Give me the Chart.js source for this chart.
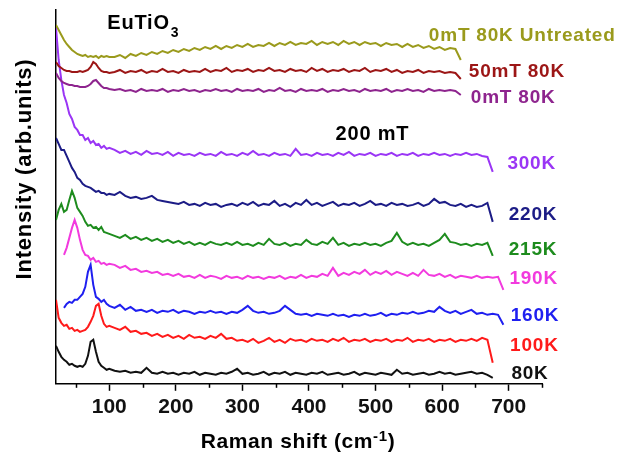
<!DOCTYPE html>
<html><head><meta charset="utf-8">
<script src="https://cdn.jsdelivr.net/npm/chart.js@4.4.1/dist/chart.umd.min.js"></script>
<style>html,body{margin:0;padding:0;background:#fff;}</style>
</head><body>
<canvas id="c" width="618" height="457"></canvas>
<script>
// Raman shift grid (cm-1)
const ramanShift = [20,24,28,32,36,40,44,48,52,56,60,64,68,72,76,80,84,88,92,96,100,
  108,116,124,132,140,148,156,164,172,180,
  188,196,204,212,220,228,236,244,252,260,
  268,276,284,292,300,308,316,324,332,340,
  348,356,364,372,380,388,396,404,412,420,
  428,436,444,452,460,468,476,484,492,500,
  508,516,524,532,540,548,556,564,572,580,
  588,596,604,612,620,628,636,644,652,660,
  668,676,684,692,700];

// Intensities (arb. units, offset stacked)
const I_0mT80K_untreated = [359,354,349,344,340,337,334,332,330,329,328,329,327,328,327,328,326,328,327,328,327,
  327,329,326,330,328,331,329,332,330,333,
  331,334,332,335,333,336,334,337,335,338,
  335,338,336,339,337,340,337,339,338,341,
  338,341,339,342,339,341,340,343,339,342,
  340,342,339,343,340,342,339,342,340,341,
  338,341,339,340,337,340,337,339,336,338,
  335,337,334,336,335,324,null,null,null,null,
  null,null,null,null,null];
const I_50mT80K = [322,318,316,314,313,313,312,312,312,313,312,313,314,317,322,320,316,313,312,312,311,
  312,314,311,313,312,314,311,313,312,315,
  312,313,311,314,312,313,312,315,312,314,
  313,316,312,314,313,315,312,314,313,316,
  313,314,312,315,313,314,312,316,313,315,
  312,314,313,315,312,314,313,316,312,314,
  313,315,312,314,311,313,312,314,311,313,
  312,313,311,312,311,305,null,null,null,null,
  null,null,null,null,null];
const I_0mT80K = [311,306,303,301,300,299,299,298,298,297,297,297,298,300,303,304,301,298,296,296,295,
  294,295,293,294,292,295,293,294,293,295,
  292,294,293,295,293,294,292,294,293,295,
  293,294,292,295,293,294,293,295,292,294,
  293,296,293,294,292,295,293,294,293,295,
  292,294,293,295,293,294,292,295,293,294,
  293,295,292,294,293,295,293,294,292,295,
  293,294,293,294,293,289,null,null,null,null,
  null,null,null,null,null];
const I_300K = [356,324,304,289,281,270,265,257,254,249,249,244,246,241,243,239,240,236,238,235,236,
  234,231,233,230,232,229,233,230,231,229,
  232,228,231,229,230,228,231,229,230,228,
  232,229,230,228,231,229,233,229,230,228,
  231,229,230,228,235,229,230,228,231,229,
  230,228,231,229,232,228,230,229,231,228,
  230,229,231,228,230,229,231,228,230,229,
  231,229,230,228,230,229,231,229,230,228,
  227,212,null,null,null];
const I_220K = [246,240,234,234,228,222,216,212,206,204,200,198,197,196,194,192,193,191,191,189,190,
  189,192,188,186,187,185,186,188,184,183,
  182,181,180,182,179,180,178,181,179,180,
  177,179,180,178,181,179,182,178,180,179,
  183,178,180,177,181,179,184,179,181,178,
  180,182,178,180,179,181,178,180,183,179,
  180,178,181,179,180,178,179,181,178,180,
  185,181,182,179,178,180,177,179,177,178,
  181,162,null,null,null];
const I_215K = [164,174,180,172,174,184,193,186,176,172,168,162,158,159,156,157,154,157,152,151,150,
  148,146,149,145,147,144,146,143,145,142,
  144,141,143,140,142,139,141,139,142,140,
  139,141,139,142,139,140,138,141,139,145,
  140,139,141,138,140,139,144,140,139,142,
  140,146,139,141,138,140,139,141,139,140,
  138,141,143,151,142,139,141,139,140,138,
  141,144,150,142,141,139,140,138,140,139,
  141,128,null,null,null];
const I_190K = [null,null,null,129,136,146,156,164,156,144,134,129,128,124,126,122,123,120,121,119,120,
  119,116,118,114,115,112,113,111,112,109,
  110,108,110,107,108,106,109,106,108,107,
  105,108,106,107,105,108,106,107,105,107,
  106,108,105,107,106,109,106,108,107,110,
  108,116,108,111,109,112,110,114,109,112,
  110,113,109,112,110,108,111,108,114,109,
  108,110,107,109,106,108,107,106,108,106,
  107,106,107,94,null];
const I_160K = [null,null,null,76,80,82,81,84,84,87,90,97,112,119,99,87,85,82,84,80,78,
  76,79,74,77,73,74,72,74,71,73,
  72,74,71,73,72,70,72,71,73,71,
  72,70,72,71,74,78,73,71,72,70,
  71,73,78,74,70,69,70,68,70,69,
  68,70,68,69,67,69,68,70,68,69,
  71,68,70,69,71,70,72,70,71,73,
  72,77,73,71,73,70,72,74,70,71,
  69,70,69,59,null];
const I_100K = [84,66,61,58,59,55,56,53,54,52,53,54,57,62,68,78,80,68,60,57,58,
  56,54,57,52,53,50,51,48,50,47,
  49,46,48,45,49,46,47,45,48,46,
  50,45,46,43,44,42,45,41,43,46,
  42,44,41,45,43,44,42,45,43,44,
  42,45,43,46,42,44,43,45,42,44,
  43,45,42,44,43,46,42,44,43,45,
  42,44,43,45,42,44,43,45,43,46,
  44,21,null,null,null];
const I_80K = [38,32,27,24,22,19,20,18,17,18,17,20,28,42,44,32,22,18,16,14,15,
  13,12,13,11,12,11,16,11,10,12,
  10,11,9,11,10,12,9,11,10,9,
  11,10,12,15,10,11,9,10,12,9,
  11,10,12,9,11,10,9,11,10,12,
  9,10,11,9,10,12,9,11,10,9,
  11,10,9,14,10,11,9,10,11,9,
  10,12,10,11,9,10,11,12,10,11,
  9,6,null,null,null];

const seriesNames = ['0mT 80K Untreated','50mT 80K','0mT 80K','300K','220K','215K','190K','160K','100K','80K'];
const seriesValues = [I_0mT80K_untreated, I_50mT80K, I_0mT80K, I_300K, I_220K, I_215K, I_190K, I_160K, I_100K, I_80K];
const xTickValues = [100,200,300,400,500,600,700];
const minorTickValues = [50,150,250,350,450,550,650,750];

// styling
const colors = ['#9a9a1c','#9c1616','#8e248e','#9a35f5','#1c1c86','#1e8c1e','#f23ade','#1f1ff0','#ff1a1a','#111111'];
// label anchors (data coordinates: x in cm-1, y = baseline in arb. units)
const labelX = [580,640,643,698,700,700,701,703,702,704];
const labelY = [343,307,281,215,164,129,100,63,33,5];

const FONT = 'Arial, "Liberation Sans", sans-serif';

const datasets = seriesValues.map((vals, i) => ({
  label: seriesNames[i],
  data: ramanShift.map((x, j) => ({x: x, y: vals[j]})),
  borderColor: colors[i],
  borderWidth: 2,
  pointRadius: 0,
  tension: 0,
  spanGaps: false
}));

const textPlugin = {
  id: 'texts',
  afterDraw(chart) {
    const ctx = chart.ctx;
    const xs = chart.scales.x, ys = chart.scales.y;
    ctx.save();
    // minor ticks
    ctx.strokeStyle = '#000';
    ctx.lineWidth = 1.5;
    const b = chart.chartArea.bottom;
    minorTickValues.forEach(v => {
      const px = Math.round(xs.getPixelForValue(v)) + 0.5;
      ctx.beginPath(); ctx.moveTo(px, b); ctx.lineTo(px, b + 4); ctx.stroke();
    });
    // series labels
    ctx.textAlign = 'left';
    ctx.textBaseline = 'alphabetic';
    ctx.letterSpacing = '0.8px';
    ctx.font = 'bold 19px ' + FONT;
    seriesNames.forEach((n, i) => {
      ctx.fillStyle = colors[i];
      ctx.fillText(n, xs.getPixelForValue(labelX[i]), ys.getPixelForValue(labelY[i]));
    });
    // "200 mT"
    ctx.fillStyle = '#000';
    ctx.font = 'bold 20px ' + FONT;
    ctx.fillText('200 mT', xs.getPixelForValue(440), ys.getPixelForValue(244));
    // EuTiO3
    let ex = xs.getPixelForValue(97), ey = ys.getPixelForValue(355);
    ctx.font = 'bold 20px ' + FONT;
    ctx.fillText('EuTiO', ex, ey);
    ex += ctx.measureText('EuTiO').width;
    ctx.font = 'bold 14px ' + FONT;
    ctx.fillText('3', ex + 1, ey + 8);
    // x title
    ctx.letterSpacing = '0.6px';
    const t1 = 'Raman shift (cm', t3 = ')';
    ctx.font = 'bold 15px ' + FONT;
    const w2 = ctx.measureText('-1').width;
    ctx.font = 'bold 21px ' + FONT;
    const w1 = ctx.measureText(t1).width, w3 = ctx.measureText(t3).width;
    let tx = 298 - (w1 + w2 + w3) / 2;
    const ty = 448;
    ctx.fillText(t1, tx, ty); tx += w1;
    ctx.font = 'bold 15px ' + FONT;
    ctx.fillText('-1', tx, ty - 7); tx += w2;
    ctx.font = 'bold 21px ' + FONT;
    ctx.fillText(t3, tx, ty);
    // y title
    ctx.translate(31, 169);
    ctx.rotate(-Math.PI / 2);
    ctx.textAlign = 'center';
    ctx.letterSpacing = '0.8px';
    ctx.font = 'bold 22px ' + FONT;
    ctx.fillText('Intensity (arb.units)', 0, 0);
    ctx.restore();
  }
};

new Chart(document.getElementById('c'), {
  type: 'line',
  data: { datasets },
  options: {
    responsive: false,
    animation: false,
    devicePixelRatio: 1,
    layout: { padding: { left: 56, right: 76, top: 10, bottom: 33 } },
    plugins: { legend: { display: false }, tooltip: { enabled: false } },
    scales: {
      x: {
        type: 'linear', min: 20, max: 750,
        afterBuildTicks(scale) { scale.ticks = xTickValues.map(v => ({value: v})); },
        ticks: { font: { family: FONT, size: 21, weight: 'bold' }, color: '#111', padding: 4, maxRotation: 0, autoSkip: false },
        grid: { drawOnChartArea: false, drawTicks: true, tickLength: 7, tickWidth: 1.5, tickColor: '#000' },
        border: { display: true, color: '#000', width: 1.5 }
      },
      y: {
        min: 0, max: 374,
        ticks: { display: false },
        grid: { drawOnChartArea: false, drawTicks: false },
        border: { display: true, color: '#000', width: 1.5 }
      }
    }
  },
  plugins: [textPlugin]
});
</script>
</body></html>
